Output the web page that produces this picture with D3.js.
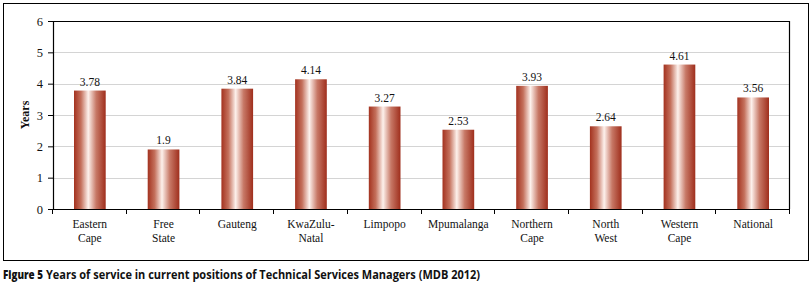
<!DOCTYPE html>
<html>
<head>
<meta charset="utf-8">
<script src="https://cdn.jsdelivr.net/npm/d3@7"></script>
<style>
  html, body { margin: 0; padding: 0; background: #fff; }
</style>
</head>
<body>
<div id="chart"></div>
<script>
/* Chart data */
const categories = [
  ['Eastern', 'Cape'], ['Free', 'State'], ['Gauteng'], ['KwaZulu-', 'Natal'], ['Limpopo'],
  ['Mpumalanga'], ['Northern', 'Cape'], ['North', 'West'], ['Western', 'Cape'], ['National']
];
const years = [3.78, 1.9, 3.84, 4.14, 3.27, 2.53, 3.93, 2.64, 4.61, 3.56];
const yTicks = [0, 1, 2, 3, 4, 5, 6];

const WIDTH = 812;
const HEIGHT = 284;
const SERIF = '"Liberation Serif", "DejaVu Serif", serif';
const SANS = '"Open Sans", "Noto Sans", sans-serif';
const margin = { top: 21, right: 22, bottom: 75, left: 53 };

const innerWidth = WIDTH - margin.left - margin.right;
const innerHeight = HEIGHT - margin.top - margin.bottom;

const svg = d3.select('#chart')
  .append('svg')
  .attr('width', WIDTH)
  .attr('height', HEIGHT);

// bar gradient
const grad = svg.append('defs').append('linearGradient')
  .attr('id', 'barGrad')
  .attr('x1', '0%').attr('x2', '100%').attr('y1', '0%').attr('y2', '0%');
grad.append('stop').attr('offset', '0%').attr('stop-color', '#a3321f');
grad.append('stop').attr('offset', '22%').attr('stop-color', '#c4705c');
grad.append('stop').attr('offset', '45%').attr('stop-color', '#fdf1ec');
grad.append('stop').attr('offset', '70%').attr('stop-color', '#c77866');
grad.append('stop').attr('offset', '100%').attr('stop-color', '#9f2e1c');

// outer frame
svg.append('rect')
  .attr('x', 3.5).attr('y', 3.5)
  .attr('width', 805).attr('height', 257)
  .attr('fill', 'none')
  .attr('stroke', '#000')
  .attr('stroke-width', 1);

const g = svg.append('g').attr('transform', `translate(${margin.left},${margin.top})`);

const x = d3.scaleBand()
  .domain(d3.range(categories.length))
  .range([0, innerWidth]);

const y = d3.scaleLinear()
  .domain([0, 6])
  .range([innerHeight, 0]);

// gridlines
g.append('g')
  .selectAll('line')
  .data(yTicks.filter(d => d > 0 && d < 6))
  .enter()
  .append('line')
  .attr('x1', 0).attr('x2', innerWidth)
  .attr('y1', d => Math.round(y(d)) + 0.5)
  .attr('y2', d => Math.round(y(d)) + 0.5)
  .attr('stroke', '#d4d4d4')
  .attr('stroke-width', 1);

// plot border top & right
g.append('path')
  .attr('d', `M0,0.5H${innerWidth - 0.5}V${innerHeight}`)
  .attr('fill', 'none')
  .attr('stroke', '#000')
  .attr('stroke-width', 1.2);

// bars
const barW = x.bandwidth() * 0.43;
g.selectAll('.bar')
  .data(years)
  .enter()
  .append('rect')
  .attr('class', 'bar')
  .attr('x', (d, i) => x(i) + (x.bandwidth() - barW) / 2)
  .attr('y', d => y(d))
  .attr('width', barW)
  .attr('height', d => innerHeight - y(d))
  .attr('fill', 'url(#barGrad)');

// value labels
g.selectAll('.val')
  .data(years)
  .enter()
  .append('text')
  .attr('class', 'val')
  .attr('x', (d, i) => x(i) + x.bandwidth() / 2)
  .attr('y', d => y(d) - 5)
  .attr('text-anchor', 'middle')
  .style('font-family', SERIF)
  .style('font-size', '11.5px')
  .style('fill', '#111')
  .text(d => d);

// y axis
const yAxis = d3.axisLeft(y).tickValues(yTicks).tickFormat(d3.format('d')).tickSize(5).tickPadding(5);
const yG = g.append('g').call(yAxis);
yG.select('.domain').attr('stroke', '#000').attr('stroke-width', 1.2);
yG.selectAll('.tick line').attr('stroke', '#000');
yG.selectAll('text')
  .style('font-family', SERIF)
  .style('font-size', '12.5px')
  .style('fill', '#111');

// x axis line and band ticks
g.append('line')
  .attr('x1', 0).attr('x2', innerWidth)
  .attr('y1', innerHeight + 0.5).attr('y2', innerHeight + 0.5)
  .attr('stroke', '#000').attr('stroke-width', 1.2);
g.append('g')
  .selectAll('line')
  .data(d3.range(categories.length + 1))
  .enter()
  .append('line')
  .attr('x1', i => Math.round(i === categories.length ? innerWidth : x(i)) - 0.5)
  .attr('x2', i => Math.round(i === categories.length ? innerWidth : x(i)) - 0.5)
  .attr('y1', innerHeight)
  .attr('y2', innerHeight + 5)
  .attr('stroke', '#000');

// category labels, one text per line
const catLines = categories.flatMap((lines, i) => lines.map((t, j) => ({ i, j, t })));
g.selectAll('.cat')
  .data(catLines)
  .enter()
  .append('text')
  .attr('class', 'cat')
  .attr('x', d => x(d.i) + x.bandwidth() / 2)
  .attr('y', d => innerHeight + 19 + d.j * 13.5)
  .attr('text-anchor', 'middle')
  .style('font-family', SERIF)
  .style('font-size', '11.5px')
  .style('fill', '#111')
  .text(d => d.t);

// y axis title
g.append('text')
  .attr('transform', `translate(${-24},${innerHeight / 2}) rotate(-90)`)
  .attr('text-anchor', 'middle')
  .style('font-family', SERIF)
  .style('font-size', '12px')
  .style('font-weight', 'bold')
  .style('fill', '#111')
  .text('Years');

// caption
svg.append('text')
  .attr('x', 3)
  .attr('y', 279)
  .attr('textLength', 40)
  .attr('lengthAdjust', 'spacingAndGlyphs')
  .style('font-family', SANS)
  .style('font-size', '13px')
  .style('font-weight', 800)
  .style('fill', '#111')
  .text('Figure 5');
svg.append('text')
  .attr('x', 46)
  .attr('y', 279)
  .attr('textLength', 434)
  .attr('lengthAdjust', 'spacingAndGlyphs')
  .style('font-family', SANS)
  .style('font-size', '13px')
  .style('font-weight', 700)
  .style('fill', '#111')
  .text('Years of service in current positions of Technical Services Managers (MDB 2012)');
</script>
</body>
</html>
